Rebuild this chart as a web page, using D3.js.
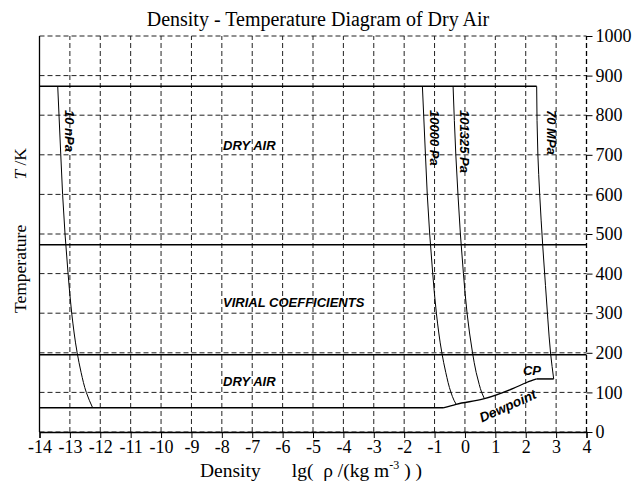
<!DOCTYPE html>
<html>
<head>
<meta charset="utf-8">
<script src="https://cdn.jsdelivr.net/npm/d3@7"></script>
<style>
  body { margin: 0; background: #fff; }
  svg { display: block; }
  text.serif { font-family: "Liberation Serif", "Times New Roman", Times, serif; }
  text.sansbi { font-family: "Liberation Sans", Arial, Helvetica, sans-serif; font-weight: bold; font-style: italic; }
</style>
</head>
<body>
<div id="wrapper"></div>
<script>
// values
const xTicks = [-14, -13, -12, -11, -10, -9, -8, -7, -6, -5, -4, -3, -2, -1, 0, 1, 2, 3, 4]
const yTicks = [0, 100, 200, 300, 400, 500, 600, 700, 800, 900, 1000]

// isobars: lg(rho) and T
const lg10nPa = [-13.40, -13.30, -13.24, -13.16, -13.06, -12.94, -12.76, -12.63, -12.46, -12.36, -12.25]
const T10nPa = [873, 700, 600, 500, 400, 300, 200, 150, 100, 80, 61]
const lg10000Pa = [-1.40, -1.30, -1.24, -1.16, -1.06, -0.94, -0.76, -0.63, -0.46, -0.36, -0.29]
const T10000Pa = [873, 700, 600, 500, 400, 300, 200, 150, 100, 80, 70]
const lg101325Pa = [-0.39, -0.30, -0.23, -0.15, -0.05, 0.07, 0.25, 0.37, 0.47, 0.55, 0.64]
const T101325Pa = [873, 700, 600, 500, 400, 300, 200, 150, 120, 100, 84]
const lg70MPa = [2.36, 2.40, 2.46, 2.56, 2.65, 2.73, 2.82, 2.92]
const T70MPa = [873, 700, 600, 470, 370, 283, 197, 134]

// dewpoint curve up to critical point
const lgDew = [-0.72, -0.29, 0.64, 1.59, 2.03, 2.36]
const TDew = [61, 70, 84, 110, 125, 134]

// boundaries: [lg start, lg end, T]
const hLines = [
    [-14, 2.36, 873],
    [-14, 4, 473],
    [-14, 4, 195],
    [-14, -0.72, 61],
    [2.36, 2.92, 134]
]

const regionLabels = ['DRY AIR', 'VIRIAL COEFFICIENTS', 'DRY AIR', 'CP']
const regionLg = [-7.96, -7.96, -7.96, 1.91]
const regionT = [712, 316, 116, 144]

const isoLabels = ['10 nPa', '10000 Pa', '101325 Pa', '70 MPa']
const isoLabelLg = [-13.16, -1.15, -0.16, 2.70]
const isoLabelT = 813

const width = 636
const height = 485
const serifFont = '"Liberation Serif", "Times New Roman", Times, serif'

const svg = d3.select('#wrapper')
    .append('svg')
        .attr('width', width)
        .attr('height', height)

const x = d3.scaleLinear().domain([-14, 4]).range([39.5, 586.5])
const y = d3.scaleLinear().domain([0, 1000]).range([432, 36])

// grid
const grid = svg.append('g')
    .attr('stroke', '#222')
    .attr('stroke-width', 1)
    .attr('stroke-dasharray', '5,3')

grid.selectAll('.vgrid')
    .data(xTicks)
    .join('line')
        .attr('x1', d => x(d))
        .attr('x2', d => x(d))
        .attr('y1', y(0))
        .attr('y2', y(1000))

grid.selectAll('.hgrid')
    .data(yTicks)
    .join('line')
        .attr('x1', x(-14))
        .attr('x2', x(4))
        .attr('y1', d => y(d))
        .attr('y2', d => y(d))

// axes
const xAxis = svg.append('g')
    .attr('transform', `translate(0,${y(0)})`)
    .call(d3.axisBottom(x).tickValues(xTicks).tickFormat(d => String(d)).tickSize(6).tickPadding(2))
    .attr('font-family', serifFont)
    .attr('font-size', 18)

xAxis.select('.domain').attr('stroke-width', 1.3)
xAxis.selectAll('text')
    .attr('class', 'serif')
    .style('font-family', serifFont)
    .style('font-size', '18px')
    .attr('fill', '#000')

const yAxis = svg.append('g')
    .attr('transform', `translate(${x(4)},0)`)
    .call(d3.axisRight(y).tickValues(yTicks).tickFormat(d => String(d)).tickSize(6).tickPadding(3))
    .attr('font-family', serifFont)
    .attr('font-size', 18)

yAxis.select('.domain').remove()
yAxis.selectAll('text')
    .attr('class', 'serif')
    .style('font-family', serifFont)
    .style('font-size', '18px')
    .attr('fill', '#000')

// left frame line
svg.append('line')
    .attr('x1', x(-14))
    .attr('x2', x(-14))
    .attr('y1', y(0))
    .attr('y2', y(1000))
    .attr('stroke', '#000')
    .attr('stroke-width', 1.3)

// right frame
svg.append('line')
    .attr('x1', x(4))
    .attr('x2', x(4))
    .attr('y1', y(0))
    .attr('y2', y(1000))
    .attr('stroke', '#000')
    .attr('stroke-width', 1.3)
    .attr('stroke-dasharray', '5,3')

// boundary lines
svg.append('g')
    .selectAll('line')
    .data(hLines)
    .join('line')
        .attr('x1', d => x(d[0]))
        .attr('x2', d => x(d[1]))
        .attr('y1', d => y(d[2]))
        .attr('y2', d => y(d[2]))
        .attr('stroke', '#000')
        .attr('stroke-width', 1.5)

const line = d3.line()
    .x(d => x(d[0]))
    .y(d => y(d[1]))
    .curve(d3.curveMonotoneY)

const curves = [
    d3.zip(lg10nPa, T10nPa),
    d3.zip(lg10000Pa, T10000Pa),
    d3.zip(lg101325Pa, T101325Pa),
    d3.zip(lg70MPa, T70MPa)
]

svg.append('g')
    .selectAll('path')
    .data(curves)
    .join('path')
        .attr('d', line)
        .attr('fill', 'none')
        .attr('stroke', '#000')
        .attr('stroke-width', 1)

svg.append('path')
    .datum(d3.zip(lgDew, TDew))
    .attr('d', d3.line().x(d => x(d[0])).y(d => y(d[1])).curve(d3.curveMonotoneX))
    .attr('fill', 'none')
    .attr('stroke', '#000')
    .attr('stroke-width', 1.3)

// labels
svg.append('g')
    .selectAll('text')
    .data(isoLabels)
    .join('text')
        .attr('class', 'sansbi')
        .attr('transform', (d, i) => `translate(${x(isoLabelLg[i])},${y(isoLabelT)}) rotate(90)`)
        .style('font-size', '13px')
        .text(d => d)

svg.append('g')
    .selectAll('text')
    .data(regionLabels)
    .join('text')
        .attr('class', 'sansbi')
        .attr('x', (d, i) => x(regionLg[i]))
        .attr('y', (d, i) => y(regionT[i]))
        .style('font-size', '13px')
        .text(d => d)

svg.append('text')
    .attr('class', 'sansbi')
    .attr('transform', `translate(${x(0.56)},${y(24)}) rotate(-24)`)
    .style('font-size', '13.5px')
    .text('Dewpoint')

// title
svg.append('text')
    .attr('class', 'serif')
    .attr('x', 318)
    .attr('y', 26)
    .attr('text-anchor', 'middle')
    .style('font-size', '20px')
    .text('Density - Temperature Diagram of Dry Air')

// x label
svg.append('text')
    .attr('class', 'serif')
    .attr('x', 200)
    .attr('y', 477)
    .style('font-size', '19.5px')
    .text('Density')

const xl = svg.append('text')
    .attr('class', 'serif')
    .attr('x', 422)
    .attr('y', 477)
    .attr('text-anchor', 'end')
    .style('font-size', '19.5px')
    .style('white-space', 'pre')
xl.append('tspan').text('lg(  ρ /(kg m')
xl.append('tspan').attr('dy', -8).style('font-size', '12px').text('-3')
xl.append('tspan').attr('dy', 8).text(' ) )')

// y label
svg.append('text')
    .attr('class', 'serif')
    .attr('transform', 'translate(26,313) rotate(-90)')
    .style('font-size', '17.5px')
    .text('Temperature')

const yl = svg.append('text')
    .attr('class', 'serif')
    .attr('transform', 'translate(26,148) rotate(-90)')
    .attr('text-anchor', 'end')
    .style('font-size', '17.5px')
    .style('white-space', 'pre')
yl.append('tspan').style('font-style', 'italic').text('T')
yl.append('tspan').text(' /K')
</script>
</body>
</html>
